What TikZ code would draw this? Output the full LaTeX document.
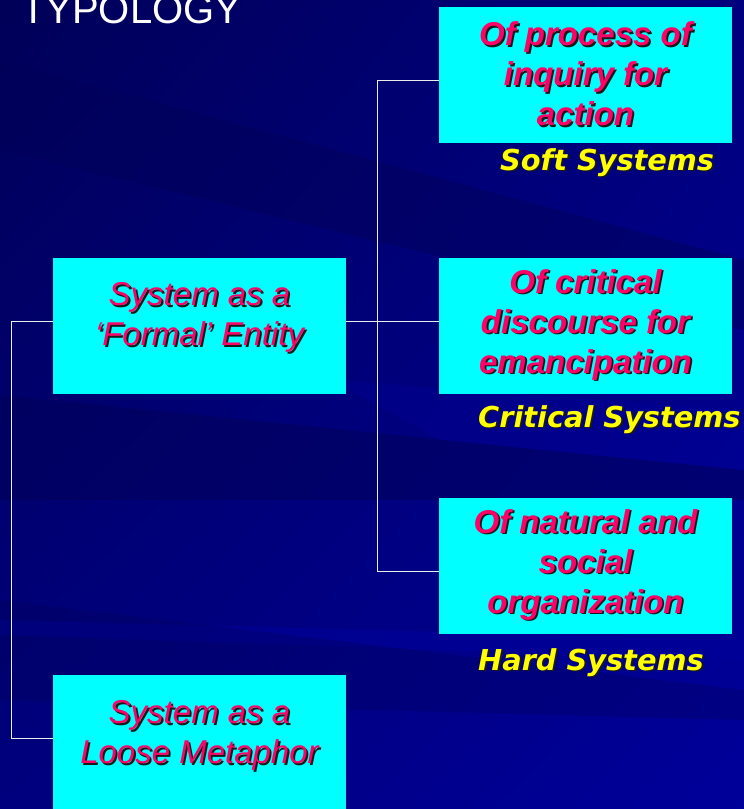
\documentclass[tikz,border=0pt]{standalone}
\usepackage{fontspec}
\setmainfont{Liberation Sans}
\newfontfamily\tagfont{DejaVu Sans}
\usetikzlibrary{positioning, shadings}

\definecolor{slidenavy}{HTML}{00007E}
\definecolor{slidedark}{HTML}{000058}
\definecolor{slidelight}{HTML}{00009A}
\definecolor{boxcyan}{HTML}{00FFFF}
\definecolor{textred}{HTML}{FF0066}
\definecolor{tagyellow}{HTML}{FFFF00}

\tikzset{
  box/.style={fill=boxcyan, minimum width=293pt, minimum height=136pt, inner sep=0pt},
  wire/.style={draw=white!85!gray, line width=1pt},
  boxtext/.style={text=textred, align=center, inner sep=0pt,
    font=\fontsize{33}{40}\selectfont\bfseries\itshape},
  metatext/.style={text=textred, align=center, inner sep=0pt,
    font=\fontsize{33}{40}\selectfont\itshape},
  tagtext/.style={text=tagyellow, anchor=base west, inner sep=0pt,
    font=\tagfont\fontsize{28.8}{34}\selectfont\bfseries\itshape},
}

% one line of text with a dark drop shadow behind it
\newcommand{\sh}[1]{\leavevmode\rlap{\kern1.8pt\raisebox{-1.8pt}{\color{black!90}#1}}#1}

\begin{document}
\begin{tikzpicture}[x=1pt, y=-1pt]
    \useasboundingbox (0,0) rectangle (744,809);

    % slide background and its streaks
    \shade[upper left=slidedark, upper right=slidenavy, lower left=slidenavy, lower right=slidelight]
      (0,0) rectangle (744,809);
    \fill[slidedark, opacity=0.45] (0,60) -- (744,260) -- (744,330) -- (0,150) -- cycle;
    \fill[slidedark, opacity=0.5] (0,395) -- (744,470) -- (744,500) -- (0,500) -- cycle;
    \fill[slidelight, opacity=0.35] (330,380) -- (744,410) -- (744,470) -- (440,440) -- cycle;
    \fill[slidelight, opacity=0.6] (0,620) -- (744,640) -- (744,660) -- (0,635) -- cycle;
    \fill[slidedark, opacity=0.3] (0,600) -- (744,690) -- (744,720) -- (0,700) -- cycle;

    % heading
    \node[anchor=base west, text=white, inner sep=0pt, font=\fontsize{40}{48}\selectfont]
      (title) at (21,23) {TYPOLOGY};

    % connectors
    \coordinate (trunktop) at (377,80);
    \coordinate (trunkbot) at (377,571);
    \coordinate (railtop) at (11,321);
    \coordinate (railbot) at (11,738);

    % boxes
    \node[box] (proc) at (585.5,75) {};
    \node[box] (crit) at (585.5,325.5) {};
    \node[box] (hard) at (585.5,565.5) {};
    \node[box] (formal) at (199.5,325.5) {};
    \node[box] (loose) at (199.5,743) {};

    \draw[wire] (proc.west |- trunktop) -- (trunktop) -- (trunkbot) -- (hard.west |- trunkbot);
    \draw[wire] (formal.east |- railtop) -- (crit.west |- railtop);
    \draw[wire] (formal.west |- railtop) -- (railtop) -- (railbot) -- (loose.west |- railbot);

    % box texts
    \node[boxtext] (proctext) at (proc.center) {\sh{Of process of}\\\sh{inquiry for}\\\sh{action}};
    \node[boxtext] (crittext) at (crit.center) {\sh{Of critical}\\\sh{discourse for}\\\sh{emancipation}};
    \node[boxtext] (hardtext) at (hard.center) {\sh{Of natural and}\\\sh{social}\\\sh{organization}};
    \node[metatext] (formaltext) at ([yshift=7pt]formal.center) {\sh{System as a}\\\sh{`Formal' Entity}};
    \node[metatext] (loosetext) at ([yshift=6.5pt]loose.center) {\sh{System as a}\\\sh{Loose Metaphor}};

    % system labels
    \node[tagtext] (softtag) at (500,170) {\sh{Soft Systems}};
    \node[tagtext] (crittag) at (478,427) {\sh{Critical Systems}};
    \node[tagtext] (hardtag) at (478,670) {\sh{Hard Systems}};

\end{tikzpicture}
\end{document}
